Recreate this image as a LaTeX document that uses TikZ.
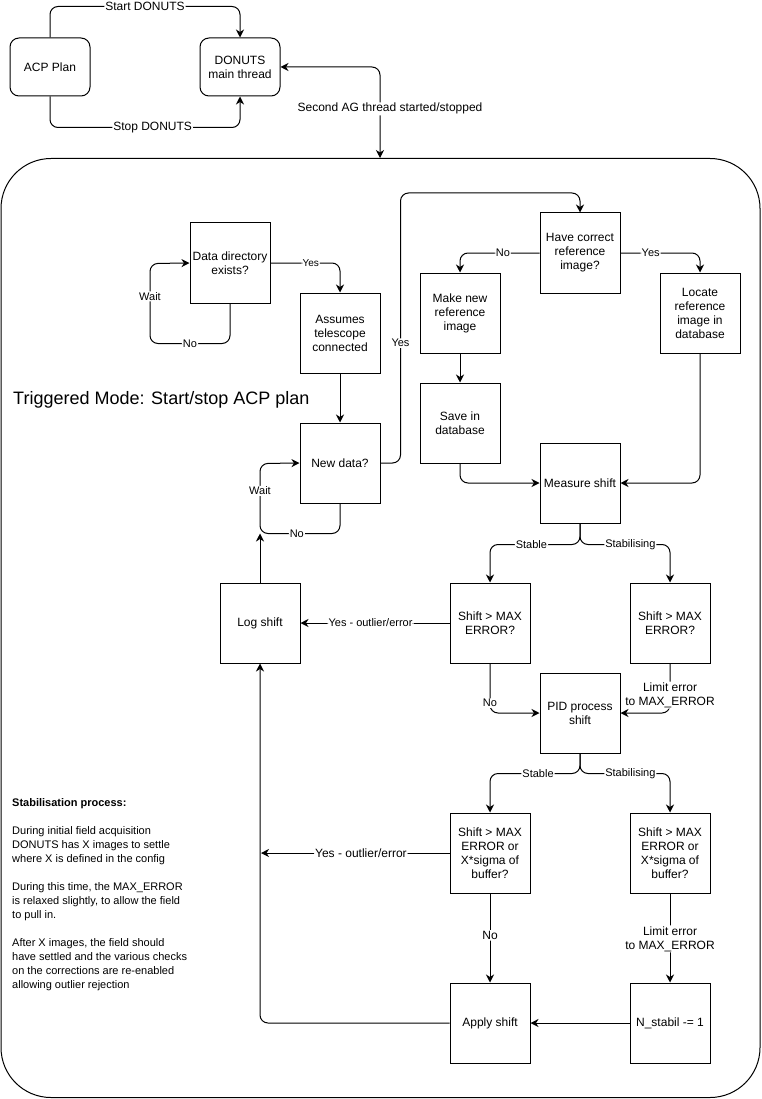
\documentclass[tikz,border=0pt]{standalone}
\usepackage{fontspec}
\setmainfont{Liberation Sans}
\usetikzlibrary{arrows.meta}
\begin{document}
\begin{tikzpicture}[x=1pt,y=-1pt,
  box/.style={draw, line width=1pt, minimum width=80pt, minimum height=80pt, inner sep=1pt, align=center, font=\fontsize{12}{14}\selectfont},
  rbox/.style={box, rounded corners=9pt, minimum height=58pt},
  tip/.style={-{Stealth[length=8pt,width=8pt,inset=2.5pt]}},
  conn/.style={line width=1pt, rounded corners=8pt, tip},
  lbl/.style={fill=white, inner sep=1pt, align=center, font=\fontsize{11}{14}\selectfont},
  lblb/.style={lbl, font=\fontsize{12}{14}\selectfont},
  lbls/.style={lbl, font=\fontsize{10}{12}\selectfont}]
\useasboundingbox (0,0) rectangle (761,1099);

% frame
\node[draw, line width=1pt, rounded corners=50pt, minimum width=759pt, minimum height=939pt, inner sep=0pt, anchor=north west] (mode) at (0.5,158) {};
\coordinate (agend) at (380,158);

% top nodes
\node[rbox] (acp) at (50,67) {ACP Plan};
\node[rbox] (donuts) at (240,67) {DONUTS\\main thread};

% flow nodes
\node[box] (datadir) at (230,263) {Data directory\\exists?};
\node[box] (assumes) at (340,333) {Assumes\\telescope\\connected};
\node[box] (newdata) at (340,463) {New data?};
\node[box] (havecorr) at (580,253) {Have correct\\reference\\image?};
\node[box] (makenew) at (460,313) {Make new\\reference\\image};
\node[box] (save) at (460,423) {Save in\\database};
\node[box] (locate) at (700,313) {Locate\\reference\\image in\\database};
\node[box] (measure) at (580,483) {Measure shift};
\node[box] (logshift) at (260,623) {Log shift};
\node[box] (shift1) at (490,623) {Shift \textgreater{} MAX\\ERROR?};
\node[box] (shift2) at (670,623) {Shift \textgreater{} MAX\\ERROR?};
\node[box] (pid) at (580,713) {PID process\\shift};
\node[box] (shift3) at (490,853) {Shift \textgreater{} MAX\\ERROR or\\X*sigma of\\buffer?};
\node[box] (shift4) at (670,853) {Shift \textgreater{} MAX\\ERROR or\\X*sigma of\\buffer?};
\node[box] (apply) at (490,1023) {Apply shift};
\node[box] (nstab) at (670,1023) {N\_stabil -= 1};

% texts
\node[anchor=west, inner sep=0pt, font=\fontsize{18}{21}\selectfont] (title) at (13,400) {Triggered Mode: Start/stop ACP plan};
\node[anchor=north west, inner sep=0pt, align=left, font=\fontsize{11}{14}\selectfont] (notes) at (12,798.5) {\textbf{Stabilisation process:}\\[14pt]
During initial field acquisition\\
DONUTS has X images to settle\\
where X is defined in the config\\[14pt]
During this time, the MAX\_ERROR\\
is relaxed slightly, to allow the field\\
to pull in.\\[14pt]
After X images, the field should\\
have settled and the various checks\\
on the corrections are re-enabled\\
allowing outlier rejection};

% top connectors
\draw[conn] (acp.north) -- ++(0,-31) -| node[lblb, pos=0.25]{Start DONUTS} (donuts.north);
\draw[conn] (acp.south) -- ++(0,31) -| node[lblb, pos=0.27]{Stop DONUTS} (donuts.south);
\draw[conn, {Stealth[length=8pt,width=8pt,inset=2.5pt]}-{Stealth[length=8pt,width=8pt,inset=2.5pt]}] (donuts.east) -| node[lblb, pos=0.73, xshift=10pt]{Second AG thread started/stopped} (agend);

% data directory loop
\draw[conn] (datadir.south) -- ++(0,40) -- node[lbl]{No} ++(-80,0) -- node[lbl, pos=0.59]{Wait} ++(0,-80) -- (datadir.west);
\draw[conn] (datadir.east) -| node[lbls, pos=0.29]{Yes} (assumes.north);
\draw[conn] (assumes) -- (newdata);

% new data loop
\draw[conn] (newdata.south) -- ++(0,30) -- node[lbl, pos=0.54]{No} ++(-80,0) coordinate (ndcorner) -- node[lbl, pos=0.61]{Wait} ++(0,-70) -- (newdata.west);
\draw[conn] (newdata.east) -- ++(20,0) -- node[lbl, pos=0.444]{Yes} ++(0,-270) -| (havecorr.north);

% reference image
\draw[conn] (havecorr.west) -| node[lbl, pos=0.23]{No} (makenew.north);
\draw[conn] (havecorr.east) -| node[lbl, pos=0.19]{Yes} (locate.north);
\draw[conn] (makenew) -- (save);
\draw[conn] (save.south) |- (measure.west);
\draw[conn] (locate.south) |- (measure.east);

% measure fork
\draw[conn] (measure.south) -- ++(0,21) -| node[lbl, pos=0.27]{Stable} (shift1.north);
\draw[conn] (measure.south) -- ++(0,21) -| node[lbl, pos=0.28]{Stabilising} (shift2.north);
\draw[conn] (shift1.west) -- node[lbl, pos=0.53]{Yes - outlier/error} (logshift.east);
\draw[conn] (shift1.south) |- node[lbl, pos=0.4]{No} (pid.west);
\draw[conn] (shift2.south) |- node[lblb, pos=0.32]{Limit error\\to MAX\_ERROR} (pid.east);
\draw[conn] (logshift.north) -- (ndcorner);

% pid fork
\draw[conn] (pid.south) -- ++(0,20) -| node[lbl, pos=0.233]{Stable} (shift3.north);
\draw[conn] (pid.south) -- ++(0,20) -| node[lbl, pos=0.28]{Stabilising} (shift4.north);
\coordinate (yesend) at (261,853);
\draw[conn] (shift3.west) -- node[lblb, pos=0.47]{Yes - outlier/error} (yesend);
\draw[conn] (shift3) -- node[lblb, pos=0.47]{No} (apply);
\draw[conn] (shift4) -- node[lblb, pos=0.51]{Limit error\\to MAX\_ERROR} (nstab);
\draw[conn] (nstab) -- (apply);
\draw[conn] (apply.west) -| (logshift.south);
\end{tikzpicture}
\end{document}
